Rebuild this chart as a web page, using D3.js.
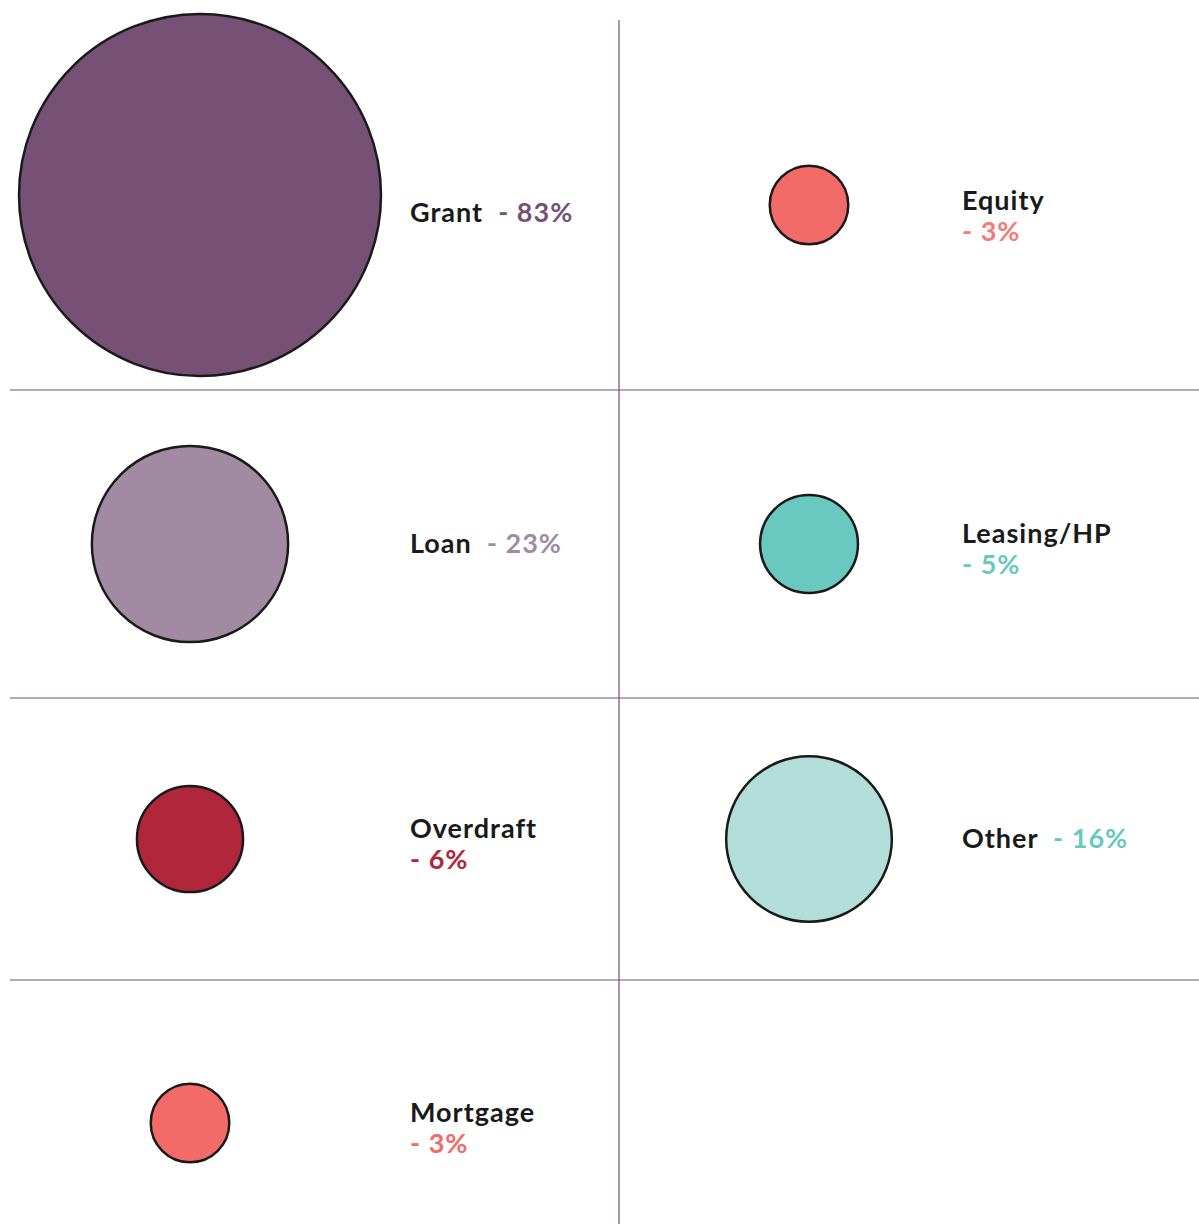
<!DOCTYPE html>
<html>
<head>
<meta charset="utf-8">
<script src="https://cdn.jsdelivr.net/npm/d3@7"></script>
<style>
  html, body { margin: 0; padding: 0; background: #fff; }
  svg { display: block; }
  text { font-family: Lato, "Open Sans", sans-serif; font-weight: 700; }
</style>
</head>
<body>
<svg id="chart"></svg>
<script>
// funding sources (row-major, two columns)
var categories = ["Grant", "Equity", "Loan", "Leasing/HP", "Overdraft", "Other", "Mortgage"];
var values = [83, 3, 23, 5, 6, 16, 3];
var fillColors = ["#765075", "#f26b68", "#a38aa3", "#69c8bf", "#b0263a", "#b2ddd9", "#f26b68"];
var textColors = ["#765075", "#f47b78", "#a38aa3", "#69c8bf", "#b0263a", "#69c8bf", "#f26b68"];
var twoLine = ["Equity", "Leasing/HP", "Overdraft", "Mortgage"];

var width = 1199;
var height = 1224;
var colX = [0, 619];          // column starts
var labelX = [410, 962];      // label starts per column
var rowEdges = [0, 390, 698, 980, 1266];

var svg = d3.select('#chart')
    .attr('width', width)
    .attr('height', height);

var r = d3.scaleSqrt()
    .domain([0, d3.max(values)])
    .range([6, 181]);

var data = categories.map(function (c, i) {
  return { name: c, value: values[i], fill: fillColors[i], tcol: textColors[i],
           col: i % 2, row: Math.floor(i / 2) };
});

// grid lines
var grid = svg.append('g')
    .attr('stroke', '#765075')
    .attr('stroke-width', 1.2);

grid.append('line')
    .attr('x1', colX[1]).attr('x2', colX[1])
    .attr('y1', 20).attr('y2', height);

grid.selectAll('line.h')
    .data(rowEdges.slice(1, 4))
    .enter().append('line')
    .attr('class', 'h')
    .attr('x1', 10).attr('x2', width)
    .attr('y1', d => d).attr('y2', d => d);

var cell = svg.selectAll('g.cell')
    .data(data)
    .enter().append('g')
    .attr('class', 'cell');

function cy(d) { return (rowEdges[d.row] + rowEdges[d.row + 1]) / 2; }
function wrapped(d) { return twoLine.indexOf(d.name) >= 0; }

cell.append('circle')
    .attr('cx', d => colX[d.col] + Math.max(190, r(d.value) + 19))
    .attr('cy', d => d.row === 0 && d.col === 1 ? cy(d) + 10 : cy(d))
    .attr('r', d => r(d.value))
    .attr('fill', d => d.fill)
    .attr('stroke', '#1a1a1a')
    .attr('stroke-width', 2.5);

var label = cell.append('text')
    .attr('x', d => labelX[d.col])
    .attr('y', d => d.row === 0 ? 222 + (wrapped(d) ? -12 : 0) : (wrapped(d) ? cy(d) - 1 : cy(d) + 9))
    .attr('font-size', 27)
    .attr('letter-spacing', 1);

label.append('tspan')
    .attr('fill', '#1a1a1a')
    .text(d => d.name);

label.append('tspan')
    .attr('fill', d => d.tcol)
    .attr('x', d => wrapped(d) ? labelX[d.col] : null)
    .attr('dy', d => wrapped(d) ? 31 : null)
    .text(d => (wrapped(d) ? '' : '\u00a0 ') + '- ' + d.value + '%');
</script>
</body>
</html>
